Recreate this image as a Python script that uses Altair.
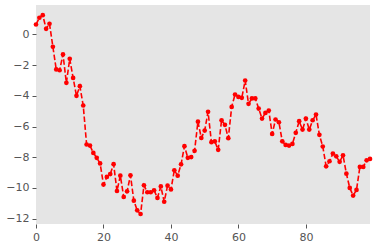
import altair as alt
import pandas as pd

x_vals = list(range(100))
y_vals = [
    0.65, 1.09, 1.26, 0.37, 0.70, -0.80, -2.28, -2.33, -1.30, -3.15,
    -1.59, -2.83, -4.00, -3.37, -4.63, -7.17, -7.24, -7.72, -8.04, -8.40,
    -9.78, -9.28, -9.10, -8.45, -10.20, -9.20, -10.59, -10.22, -9.18, -10.83,
    -11.46, -11.70, -9.83, -10.28, -10.28, -10.15, -10.65, -9.90, -10.90, -9.85,
    -10.10, -8.85, -9.20, -8.46, -7.28, -8.04, -7.99, -7.58, -5.68, -6.74,
    -6.26, -5.04, -7.02, -6.96, -7.52, -5.59, -5.89, -6.76, -4.72, -3.91,
    -4.07, -4.13, -3.00, -4.52, -4.17, -4.17, -4.83, -5.48, -5.11, -4.96,
    -6.48, -5.54, -5.72, -6.96, -7.20, -7.24, -7.13, -6.41, -5.65, -6.20,
    -5.48, -6.20, -5.59, -5.22, -6.54, -7.30, -8.59, -8.26, -7.76, -7.94,
    -8.30, -7.87, -9.07, -10.00, -10.50, -10.13, -8.63, -8.63, -8.20, -8.11,
]
x_ticks = [0, 20, 40, 60, 80]
y_ticks = [0, -2, -4, -6, -8, -10, -12]

df = pd.DataFrame({"x": x_vals, "y": y_vals})

axis_style = dict(title=None, grid=False, domain=False, tickColor="#555555", tickSize=4,
                  labelColor="#555555", labelFont="DejaVu Sans", labelFontSize=11,
                  labelPadding=3, labelOverlap=False, labelFlush=False)

x_enc = alt.X("x:Q", scale=alt.Scale(domain=[0, 99], nice=False, zero=False),
              axis=alt.Axis(values=x_ticks, **axis_style))
y_enc = alt.Y("y:Q", scale=alt.Scale(domain=[-12.35, 1.92], nice=False, zero=False),
              axis=alt.Axis(values=y_ticks, **axis_style))

line = alt.Chart(df).mark_line(color="#ff0000", strokeWidth=1.6, strokeDash=[5.5, 2.4]).encode(
    x=x_enc, y=y_enc)
pts = alt.Chart(df).mark_circle(color="#ff0000", size=22, opacity=1).encode(x=x_enc, y=y_enc)

chart = (line + pts).properties(
    width=334, height=219,
    autosize=alt.AutoSizeParams(type="none"),
    padding={"left": 36, "top": 5, "right": 7, "bottom": 24},
    background="white",
).configure_view(fill="#E5E5E5", stroke=None)

chart.save("out.html", embed_options={"renderer": "svg", "actions": False})
